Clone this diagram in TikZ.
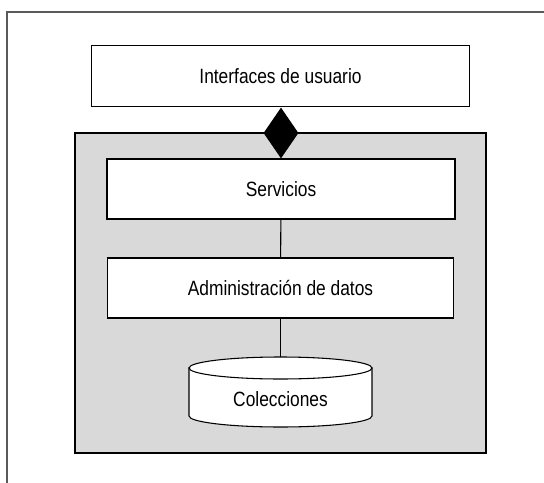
\documentclass[tikz,border=0pt]{standalone}
\usepackage{fontspec}
\setmainfont{Liberation Sans}[FakeStretch=0.84]
\usetikzlibrary{shapes.geometric}

\begin{document}
\begin{tikzpicture}[x=0.75pt,y=-0.75pt,
  layerbox/.style={rectangle,draw=black,fill=white,line width=0.8pt,inner sep=0pt,
    minimum height=45pt,font=\fontsize{15.5}{18}\selectfont},
  link/.style={draw=black,line width=0.8pt}]
\useasboundingbox (0,0) rectangle (544,483);

\draw[black!65,line width=0.8pt] (544,12) -- (7,12) -- (7,483);
\draw[fill=black!15,line width=0.8pt] (75,133) rectangle (486,453);

\node[layerbox,minimum width=284pt,minimum height=45.5pt] (ui) at (280.5,75.75) {Interfaces de usuario};
\node[layerbox,minimum width=261pt] (serv) at (281,189) {Servicios};
\node[layerbox,minimum width=260pt] (adm) at (280.5,288) {Administración de datos};
\node[diamond,fill=black,inner sep=0pt,minimum width=26.25pt,minimum height=38.25pt] (comp) at (281,133) {};

\draw[fill=white,line width=0.8pt] (189,368) -- (189,416) arc[start angle=180,end angle=0,x radius=91.5,y radius=11] -- (372,368) -- cycle;
\draw[fill=white,line width=0.8pt] (280.5,368) ellipse [x radius=91.5,y radius=11];
\node[font=\fontsize{15.5}{18}\selectfont] (coll) at (280.5,399) {Colecciones};
\coordinate (colltop) at (280.5,357);

\draw[link] (serv) -- (adm);
\draw[link] (adm) -- (colltop);
\end{tikzpicture}
\end{document}
